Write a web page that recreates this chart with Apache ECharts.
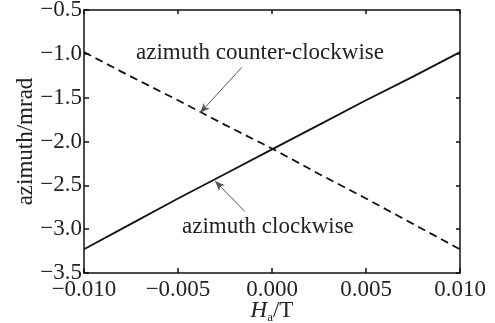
<!DOCTYPE html>
<html>
<head>
<meta charset="utf-8">
<script src="https://cdn.jsdelivr.net/npm/echarts@6/dist/echarts.min.js"></script>
<style>
  html, body { margin: 0; padding: 0; background: #fff; }
  #chart { width: 495px; height: 323px; }
</style>
</head>
<body>
<div id="chart"></div>
<script>
// field H_a in T
var fieldH = [-0.010, -0.0075, -0.005, -0.0025, 0.000, 0.0025, 0.005, 0.0075, 0.010]
// azimuth in mrad
var clockwise = [-3.23, -2.94, -2.65, -2.37, -2.09, -1.81, -1.53, -1.26, -0.98]
var counterClockwise = [-0.98, -1.26, -1.53, -1.81, -2.08, -2.37, -2.65, -2.94, -3.23]
var xTicks = [-0.010, -0.005, 0.000, 0.005, 0.010]
var yTicks = [-3.5, -3.0, -2.5, -2.0, -1.5, -1.0, -0.5]

// arrow pointers for the two labels, in data units
var cwArrow = [[-0.00144, -2.80], [-0.00303, -2.45]]
var ccwArrow = [[-0.00161, -1.155], [-0.00383, -1.675]]

var font = '"Liberation Serif", "Times New Roman", serif'

function minus(s) {
  return s.replace('-', '\u2212')
}

function pairs(xs, ys) {
  var out = []
  for (var i = 0; i < xs.length; i++) {
    out.push([xs[i], ys[i]])
  }
  return out
}

function arrowLine(pts) {
  return {
    silent: true,
    symbol: ['none', 'arrow'],
    symbolSize: [6, 10],
    label: { show: false },
    lineStyle: { color: '#555', width: 1, type: 'solid' },
    data: [[{ coord: pts[0] }, { coord: pts[1] }]],
  }
}

var axisBase = {
  axisLine: { show: true, onZero: false, lineStyle: { color: '#111', width: 1.5 } },
  axisTick: { show: true, inside: true, length: 5, lineStyle: { color: '#111', width: 1.5 } },
  splitLine: { show: false },
}

var chart = echarts.init(document.getElementById('chart'))
chart.setOption({
  animation: false,
  backgroundColor: '#fff',
  grid: { left: 84, right: 35, top: 10, bottom: 50, outerBoundsMode: 'none', containLabel: false },
  xAxis: [
    Object.assign({}, axisBase, {
      type: 'value',
      min: xTicks[0],
      max: xTicks[xTicks.length - 1],
      interval: 0.005,
      name: '{i|H}{s|a}{n|/T}',
      nameLocation: 'middle',
      nameGap: 24,
      nameMoveOverlap: false,
      nameTextStyle: {
        rich: {
          i: { fontFamily: font, fontSize: 23, fontStyle: 'italic', color: '#222' },
          s: { fontFamily: font, fontSize: 13, color: '#222', padding: [14, 0, 0, 0] },
          n: { fontFamily: font, fontSize: 23, color: '#222' },
        },
      },
      axisLabel: {
        fontFamily: font,
        fontSize: 23,
        color: '#222',
        margin: 5,
        formatter: function (v) { return minus(v.toFixed(3)) },
      },
    }),
    Object.assign({}, axisBase, {
      type: 'value',
      position: 'top',
      min: xTicks[0],
      max: xTicks[xTicks.length - 1],
      interval: 0.005,
      axisTick: { show: true, inside: true, length: 4, lineStyle: { color: '#111', width: 1.5 } },
      axisLabel: { show: false },
    }),
  ],
  yAxis: [
    Object.assign({}, axisBase, {
      type: 'value',
      min: yTicks[0],
      max: yTicks[yTicks.length - 1],
      interval: 0.5,
      name: 'azimuth/mrad',
      nameLocation: 'middle',
      nameGap: 47,
      nameMoveOverlap: false,
      nameTextStyle: { fontFamily: font, fontSize: 23, color: '#222' },
      axisLabel: {
        fontFamily: font,
        fontSize: 23,
        color: '#222',
        margin: 2,
        formatter: function (v) { return minus(v.toFixed(1)) },
      },
    }),
    Object.assign({}, axisBase, {
      type: 'value',
      position: 'right',
      min: yTicks[0],
      max: yTicks[yTicks.length - 1],
      interval: 0.5,
      axisTick: { show: true, inside: true, length: 4, lineStyle: { color: '#111', width: 1.5 } },
      axisLabel: { show: false },
    }),
  ],
  series: [
    {
      name: 'azimuth clockwise',
      type: 'line',
      symbol: 'none',
      data: pairs(fieldH, clockwise),
      lineStyle: { color: '#111', width: 1.8, type: 'solid' },
      markLine: arrowLine(cwArrow),
    },
    {
      name: 'azimuth counter-clockwise',
      type: 'line',
      symbol: 'none',
      data: pairs(fieldH, counterClockwise),
      lineStyle: { color: '#111', width: 1.8, type: [8, 5] },
      markLine: arrowLine(ccwArrow),
    },
  ],
  graphic: [
    {
      type: 'text',
      left: 136,
      top: 41,
      style: { text: 'azimuth counter-clockwise', font: '23px ' + font, fill: '#222' },
    },
    {
      type: 'text',
      left: 182,
      top: 215,
      style: { text: 'azimuth clockwise', font: '23px ' + font, fill: '#222' },
    },
  ],
})
</script>
</body>
</html>
